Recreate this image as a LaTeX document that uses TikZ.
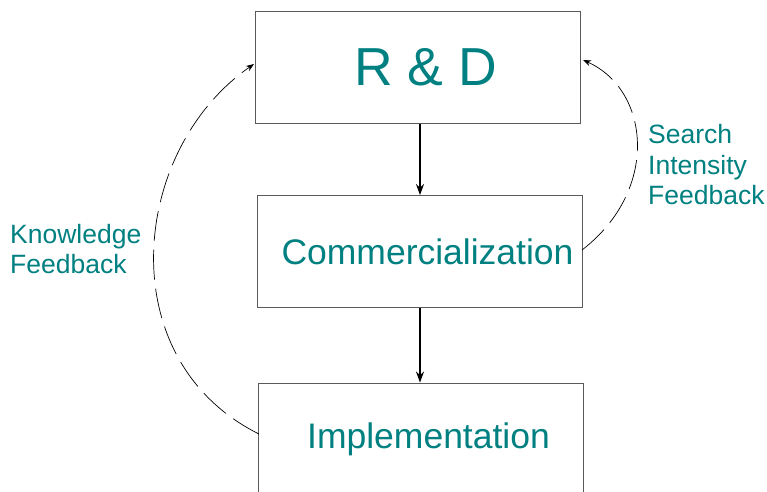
\documentclass[tikz,border=0pt]{standalone}
\usepackage{fontspec}
\setmainfont{Liberation Sans}
\usepackage{xcolor}
\usepackage{tikz}
\usetikzlibrary{arrows.meta, positioning}
\definecolor{teal}{RGB}{0, 128, 128}
\definecolor{frame}{RGB}{90, 90, 90}
\tikzstyle{stage} = [rectangle, minimum width=325pt, minimum height=112pt, text centered, draw=frame, line width=0.9pt, text=teal]
\tikzstyle{arrow} = [line width=1.6pt,-{Stealth[length=11pt,width=8pt]}]
\tikzstyle{feedback} = [line width=0.7pt, dash pattern=on 30pt off 9pt, -{Stealth[length=8pt,width=6pt]}]
\tikzstyle{note} = [text=teal, align=left, anchor=west, inner sep=0pt, font=\fontsize{26.5}{30.5}\selectfont]
% text sits a little right of the box centre
\newcommand{\shifted}[1]{\hspace*{15pt}#1}

\begin{document}
\begin{tikzpicture}[x=1pt, y=-1pt]
    \useasboundingbox (0,0) rectangle (767,491);

    % Stages
    \node[stage, font=\fontsize{53.5}{60}\selectfont] (rd) at (418, 67.5) {\shifted{R \& D}};
    \node[stage, font=\fontsize{35.5}{42}\selectfont] (comm) at (420, 251.5) {\shifted{Commercialization}};
    \node[stage, font=\fontsize{35.5}{42}\selectfont] (impl) at (421, 439) {\shifted{Implementation}};

    % Forward flow
    \draw[arrow] (rd.south -| 420,0) -- (comm.north -| 420,0);
    \draw[arrow] (comm.south -| 420,0) -- (impl.north -| 420,0);

    % Feedback loops
    \coordinate (implout) at (259, 434);
    \coordinate (rdin) at (254, 64);
    \draw[feedback] (implout) .. controls (110, 360) and (130, 150) .. (rdin);
    \coordinate (commout) at (582, 250);
    \coordinate (rdinr) at (583, 60);
    \draw[feedback] (commout) .. controls (660, 190) and (650, 90) .. (rdinr);

    % Labels
    \node[note] (know) at (10, 249) {Knowledge\\Feedback};
    \node[note] (search) at (648, 165) {Search\\Intensity\\Feedback};
\end{tikzpicture}
\end{document}
